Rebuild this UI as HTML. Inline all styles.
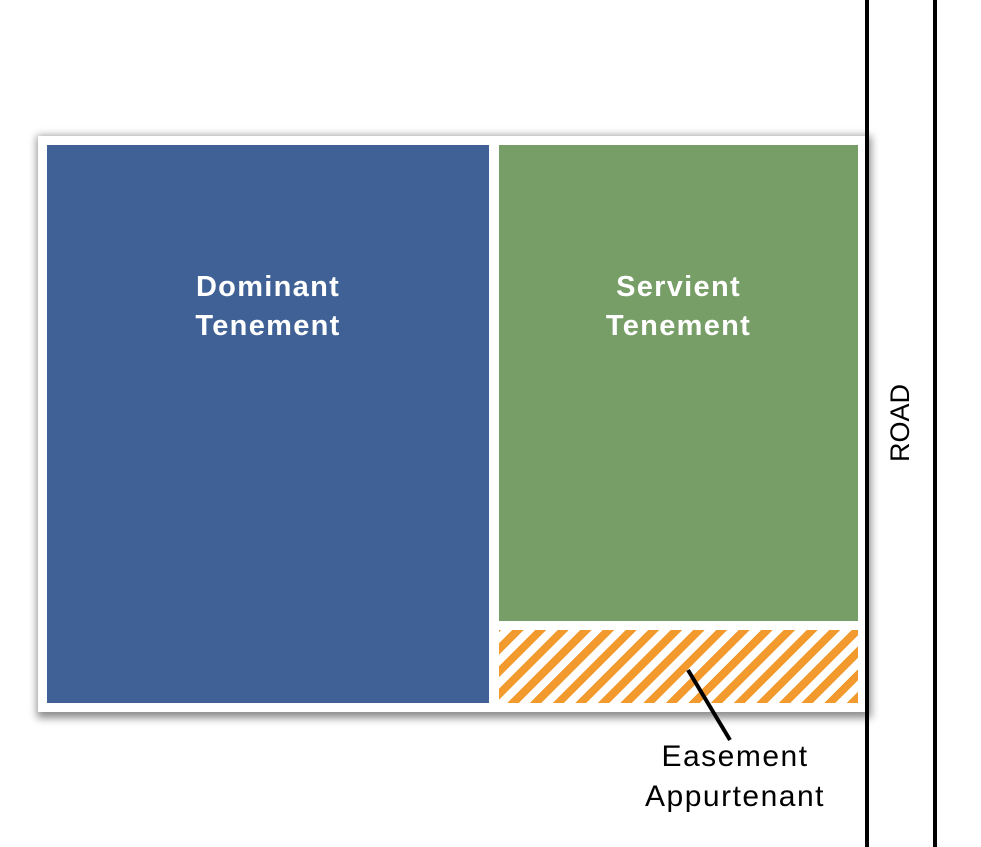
<!DOCTYPE html>
<html><head><style>
html,body{margin:0;padding:0;background:#fff;width:981px;height:847px;overflow:hidden;position:relative;font-family:"Liberation Sans",sans-serif}
div{position:absolute;box-sizing:border-box}
.lbl{color:#fff;font-weight:bold;font-size:29px;line-height:39px;text-align:center;letter-spacing:1.3px}
</style></head><body>
<div style="left:38px;top:136px;width:828px;height:576px;background:#fff;box-shadow:2px 3px 8px 3px rgba(0,0,0,0.45)"></div>
<div style="left:47px;top:145px;width:442px;height:558px;background:#3f6196"></div>
<div style="left:499px;top:145px;width:359px;height:476px;background:#779e66"></div>
<div style="left:499px;top:630px;width:359px;height:73px;background:repeating-linear-gradient(-45deg,#f39a2e 0 8px,#fff 8px 16px)"></div>
<div class="lbl" style="left:47px;top:268px;width:442px">Dominant<br>Tenement</div>
<div class="lbl" style="left:499px;top:268px;width:359px">Servient<br>Tenement</div>
<div style="left:865px;top:0;width:4px;height:847px;background:#000"></div>
<div style="left:933px;top:0;width:4px;height:847px;background:#000"></div>
<div style="left:840px;top:410px;width:120px;height:26px;transform:rotate(-90deg);font-size:27px;line-height:26px;text-align:center;color:#000">ROAD</div>
<svg style="position:absolute;left:0;top:0" width="981" height="847"><line x1="688" y1="670" x2="730" y2="740" stroke="#000" stroke-width="4"/></svg>
<div style="left:585px;top:737px;width:300px;font-size:30px;line-height:40px;text-align:center;color:#000;letter-spacing:1.5px">Easement<br>Appurtenant</div>
</body></html>
